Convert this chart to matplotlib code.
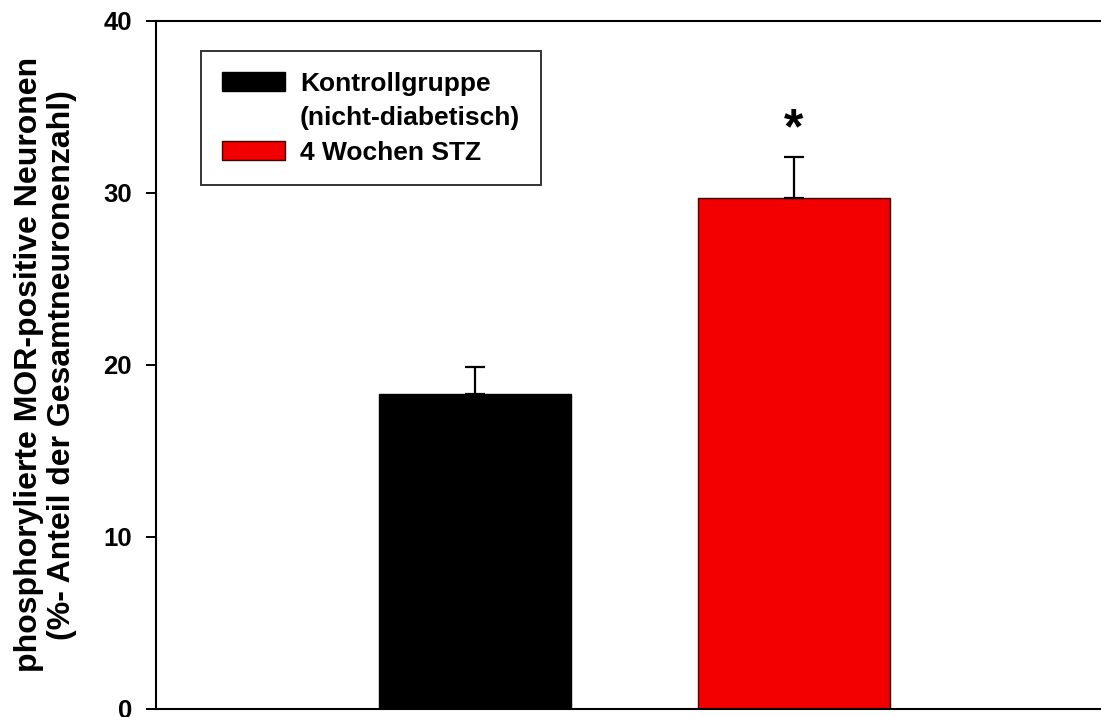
import matplotlib
matplotlib.use("Agg")
import matplotlib.pyplot as plt
from matplotlib.patches import Patch

# Group data: mean percentage of phosphorylated MOR-positive neurons and SEM
groups = ["Kontrollgruppe\n(nicht-diabetisch)", "4 Wochen STZ"]
means = [18.3, 29.7]
sems = [1.56, 2.35]
bar_colors = ["#000000", "#f20000"]
edge_colors = ["#000000", "#3a0000"]
significance = ["", "*"]
y_ticks = [0, 10, 20, 30, 40]

plt.rcParams["font.family"] = ["Liberation Sans", "DejaVu Sans"]
plt.rcParams["font.weight"] = "bold"

W, H = 1101, 717
fig = plt.figure(figsize=(W / 100, H / 100), dpi=100)
ax = fig.add_axes([156 / W, 8 / H, 957 / W, 688.3 / H])

positions = list(range(1, len(groups) + 1))
bars = ax.bar(positions, means, width=0.605, color=bar_colors,
              edgecolor=edge_colors, linewidth=1.0, zorder=2)

# upward-only error bars
ax.errorbar(positions, means, yerr=[[0] * len(sems), sems], fmt="none",
            ecolor="black", elinewidth=1.6, capsize=7.2, capthick=1.6, zorder=3)

for x, m, s, mark in zip(positions, means, sems, significance):
    if mark:
        ax.text(x, m + s + 0.25, mark, ha="center", va="bottom",
                fontsize=36, fontweight="bold")

ax.set_xlim(0, 3)
ax.set_ylim(0, 40)
ax.set_xticks([])
ax.set_yticks(y_ticks)
ax.set_yticklabels([str(t) for t in y_ticks])
ax.tick_params(axis="y", direction="out", length=7.2, width=1.4, pad=10,
               labelsize=18.5)
for lab in ax.get_yticklabels():
    lab.set_fontweight("bold")

ax.spines["right"].set_visible(False)
for side in ("left", "top", "bottom"):
    ax.spines[side].set_linewidth(1.5)

ax.set_ylabel("phosphorylierte MOR-positive Neuronen\n(%- Anteil der Gesamtneuronenzahl)",
              fontsize=23, fontweight="bold", linespacing=1.12,
              multialignment="center")
ax.yaxis.set_label_coords(-0.083, 0.5)

# legend: the two-line control label is split so the swatch sits on the first line
handles = [Patch(facecolor=bar_colors[0], edgecolor=edge_colors[0]),
           Patch(facecolor="none", edgecolor="none"),
           Patch(facecolor=bar_colors[1], edgecolor=edge_colors[1])]
labels = groups[0].split("\n") + [groups[1]]
leg = ax.legend(handles, labels, loc="upper left",
                bbox_to_anchor=(0.047, 0.956), borderaxespad=0,
                fontsize=19, frameon=True, fancybox=False,
                handlelength=2.4, handleheight=0.76, handletextpad=0.57,
                labelspacing=0.40, borderpad=0.78, edgecolor="black")
leg.get_frame().set_linewidth(1.4)
for t in leg.get_texts():
    t.set_fontweight("bold")

fig.savefig("out.png", dpi=100)
